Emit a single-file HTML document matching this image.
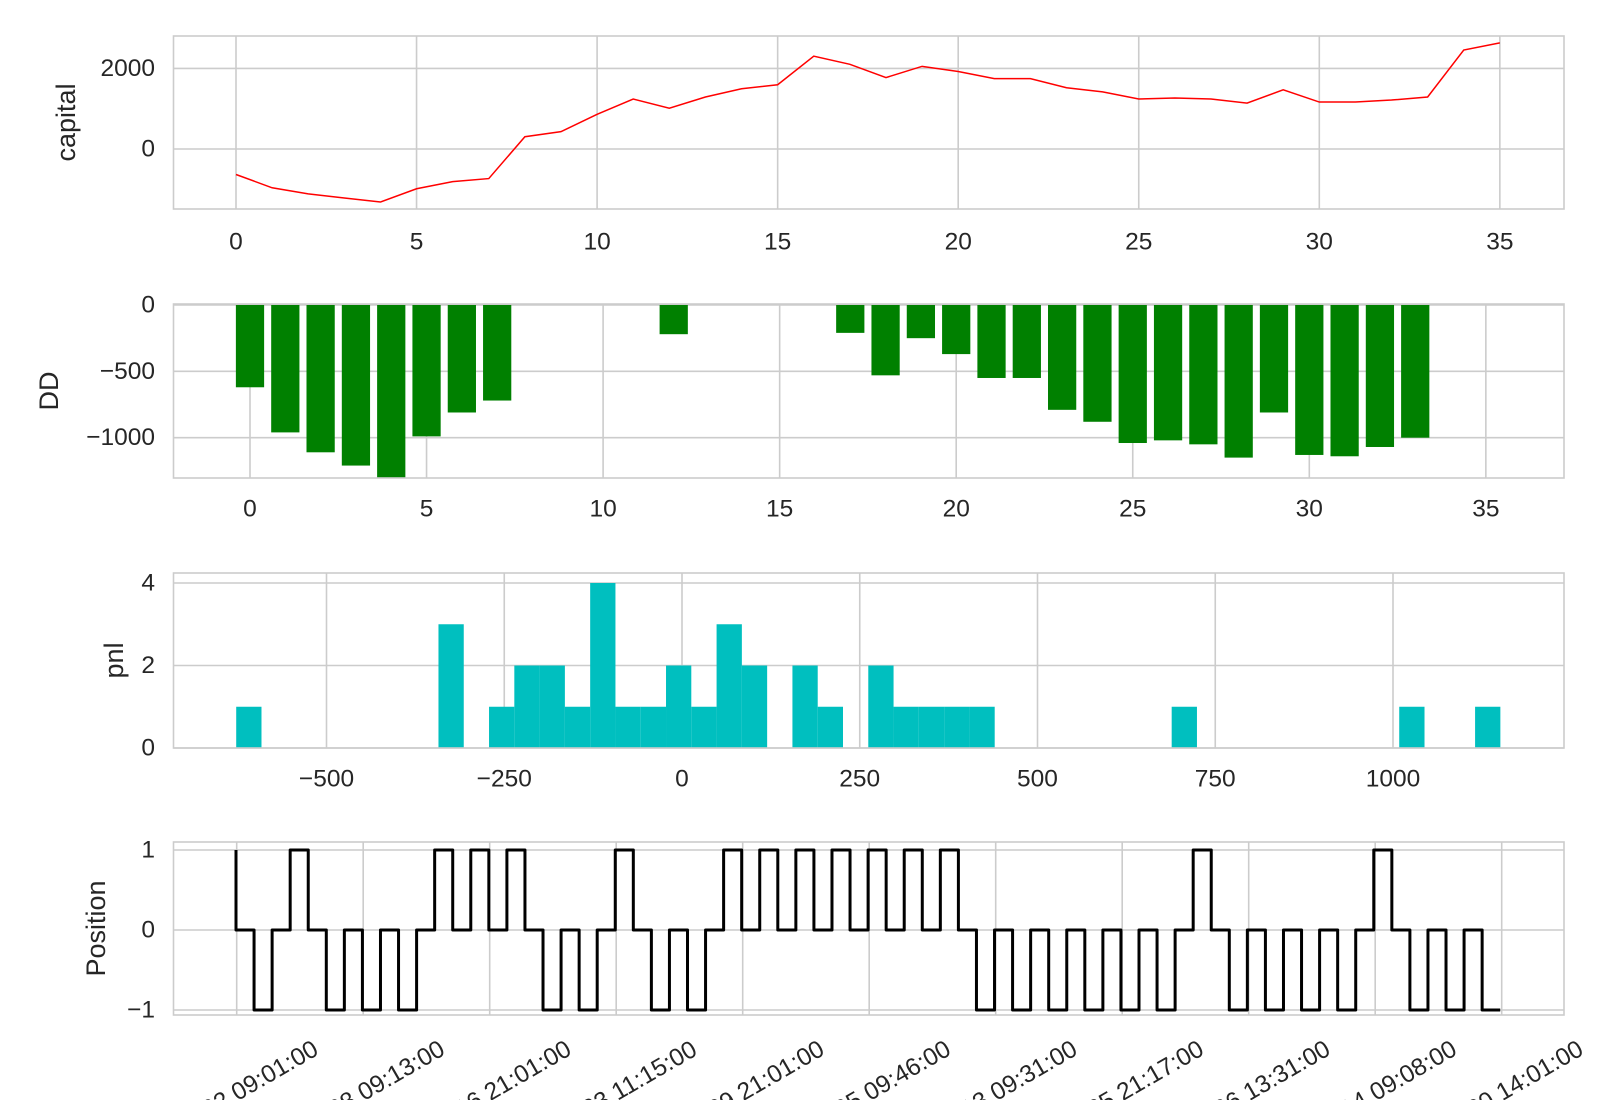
<!DOCTYPE html>
<html><head><meta charset="utf-8"><style>
html,body{margin:0;background:#fff;overflow:hidden;width:1600px;height:1100px;}
svg{display:block;}
svg text{font-family:"Liberation Sans",sans-serif;fill:#262626;}
</style></head><body>
<svg id="chart" width="1600" height="1100" xmlns="http://www.w3.org/2000/svg"></svg>
<script>
const capitalValues=[-633,-962,-1114,-1215,-1316,-987,-810,-734,304,430,861,1240,1013,1291,1494,1595,2304,2101,1772,2051,1924,1747,1747,1519,1418,1241,1266,1241,1139,1468,1165,1165,1215,1291,2456,2633];
const ddValues=[-620,-960,-1110,-1210,-1300,-990,-810,-720,0,0,0,0,-220,0,0,0,0,-210,-530,-250,-370,-550,-550,-790,-880,-1040,-1020,-1050,-1150,-810,-1130,-1140,-1070,-1000,0,0];
const pnlCounts=[1,0,0,0,0,0,0,0,3,0,1,2,2,1,4,1,1,2,1,3,2,0,2,1,0,2,1,1,1,1,0,0,0,0,0,0,0,1,0,0,0,0,0,0,0,0,1,0,0,1];
const pnlStart=-627, pnlBinWidth=35.56;
const positionValues=[1,0,-1,0,1,0,-1,0,-1,0,-1,0,1,0,1,0,1,0,-1,0,-1,0,1,0,-1,0,-1,0,1,0,1,0,1,0,1,0,1,0,1,0,1,0,-1,0,-1,0,-1,0,-1,0,-1,0,-1,0,1,0,-1,0,-1,0,-1,0,-1,0,1,0,-1,0,-1,0,-1];
const dateLabels=["2019-01-02 09:01:00","2019-01-08 09:13:00","2019-01-16 21:01:00","2019-01-23 11:15:00","2019-01-29 21:01:00","2019-02-05 09:46:00","2019-02-13 09:31:00","2019-02-25 21:17:00","2019-03-06 13:31:00","2019-03-14 09:08:00","2019-03-20 14:01:00"];
const capXTicks=[0,5,10,15,20,25,30,35], capYTicks=[0,2000];
const ddXTicks=[0,5,10,15,20,25,30,35], ddYTicks=[0,-500,-1000];
const pnlXTicks=[-500,-250,0,250,500,750,1000], pnlYTicks=[0,2,4];
const posYTicks=[-1,0,1];

const NS="http://www.w3.org/2000/svg";
const svg=document.getElementById('chart');
function mk(tag,attrs,parent,name){const e=document.createElementNS(NS,tag);for(const k in attrs)e.setAttribute(k,attrs[k]);


(parent||svg).appendChild(e);return e;}
const L=173.5,R=1564;
const FS=24.5;
const fmt=v=>String(v).replace('-','\u2212');
function panel(name,top,bot,xs,ys,xt,yt,ylabel,ylx){
  const g=mk('g',{},svg,name+'-panel');
  xt.forEach(t=>{mk('line',{x1:xs(t),x2:xs(t),y1:top,y2:bot,stroke:'#cccccc','stroke-width':1.6},g,'x-gridline');});
  yt.forEach(t=>{mk('line',{x1:L,x2:R,y1:ys(t),y2:ys(t),stroke:'#cccccc','stroke-width':1.6},g,'y-gridline');
    const tx=mk('text',{x:155,y:ys(t),'text-anchor':'end','dominant-baseline':'central','font-size':FS},g,'y-tick-label');tx.textContent=fmt(t);});
  const yl=mk('text',{x:ylx,y:(top+bot)/2,'text-anchor':'middle','dominant-baseline':'central','font-size':27,transform:`rotate(-90 ${ylx} ${(top+bot)/2})`},g,'y-axis-title');yl.textContent=ylabel;
  return g;
}
function frame(g,top,bot){mk('rect',{x:L,y:top,width:R-L,height:bot-top,fill:'none',stroke:'#cccccc','stroke-width':1.6},g,'axes-frame');}
function xlabels(g,xs,xt,y){xt.forEach(t=>{const tx=mk('text',{x:xs(t),y:y,'text-anchor':'middle','dominant-baseline':'central','font-size':FS},g,'x-tick-label');tx.textContent=fmt(t);});}

// Panel 1 capital
{const xs=v=>236+v*36.11, ys=v=>149-v*0.0403;
 const g=panel('capital',36,209,xs,ys,capXTicks,capYTicks,'capital',66);
 mk('polyline',{points:capitalValues.map((v,i)=>xs(i)+','+ys(v)).join(' '),fill:'none',stroke:'#ff0000','stroke-width':1.5},g,'capital-line');
 frame(g,36,209); xlabels(g,xs,capXTicks,242);}
// Panel 2 DD
{const xs=v=>250+v*35.31, ys=v=>305-v*0.1327;
 const g=panel('dd',304,478,xs,ys,ddXTicks,ddYTicks,'DD',49);
 ddValues.forEach((v,i)=>{if(v===0)return;mk('rect',{x:xs(i-0.4),y:ys(0),width:xs(0.8)-xs(0),height:ys(v)-ys(0),fill:'#008000'},g,'dd-bar');});
 frame(g,304,478); xlabels(g,xs,ddXTicks,509);}
// Panel 3 pnl histogram
{const xs=v=>682+v*0.711, ys=v=>748-v*41.25;
 const g=panel('pnl',573,748,xs,ys,pnlXTicks,pnlYTicks,'pnl',114);
 pnlCounts.forEach((c,i)=>{if(!c)return;const a=pnlStart+i*pnlBinWidth;mk('rect',{x:xs(a),y:ys(c),width:xs(a+pnlBinWidth)-xs(a),height:ys(0)-ys(c),fill:'#00bfbf'},g,'pnl-bar');});
 frame(g,573,748); xlabels(g,xs,pnlXTicks,779);}
// Panel 4 position
{const xs=i=>236+i*18.06, ys=v=>930-v*80;
 const tickX=k=>236.7+k*126.5;
 const g=panel('position',842,1015,v=>v,ys,[],posYTicks,'Position',96);
 dateLabels.forEach((d,k)=>{mk('line',{x1:tickX(k),x2:tickX(k),y1:842,y2:1015,stroke:'#cccccc','stroke-width':1.6},g,'x-gridline');});
 let pts=[[xs(0),ys(positionValues[0])]];
 for(let i=1;i<positionValues.length;i++){pts.push([xs(i-1),ys(positionValues[i])]);pts.push([xs(i),ys(positionValues[i])]);}
 mk('polyline',{points:pts.map(p=>p.join(',')).join(' '),fill:'none',stroke:'#000','stroke-width':3,'stroke-linejoin':'round'},g,'position-line');
 frame(g,842,1015);
 dateLabels.forEach((d,k)=>{const x=tickX(k)-19,y=1104;const tx=mk('text',{x:x,y:y,'text-anchor':'middle','dominant-baseline':'central','font-size':FS,transform:`rotate(-30 ${x} ${y})`},g,'date-tick-label');tx.textContent=d;});}
</script>
</body></html>
